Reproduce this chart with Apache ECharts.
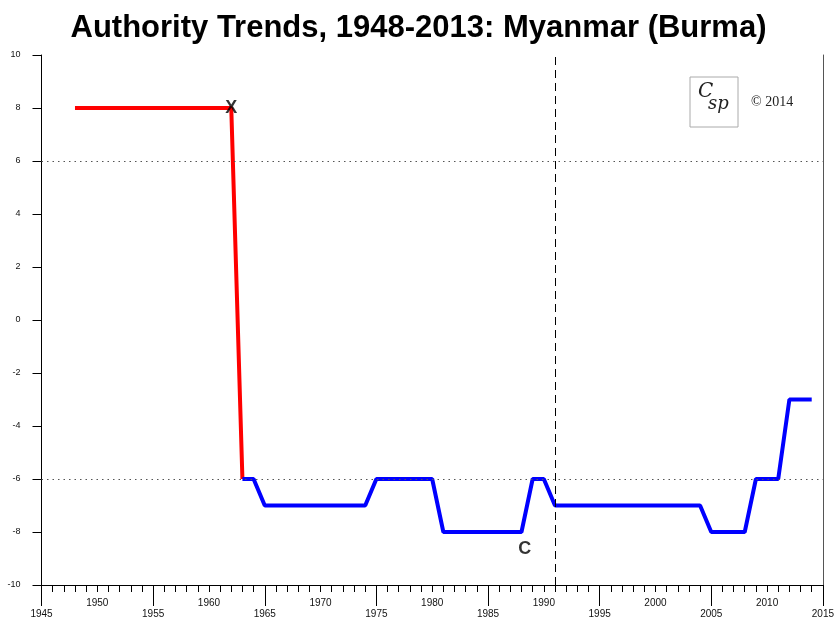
<!DOCTYPE html>
<html>
<head>
<meta charset="utf-8">
<script src="https://cdn.jsdelivr.net/npm/echarts@6/dist/echarts.min.js"></script>
<style>html,body{margin:0;padding:0;background:#fff}#c{width:837px;height:621px}</style>
</head>
<body>
<div id="c"></div>
<script>
const titleText = 'Authority Trends, 1948-2013: Myanmar (Burma)';
const redYears  = [1948, 1962, 1963];
const redValues = [8, 8, -6];
const blueYears  = [1963, 1964, 1965, 1974, 1975, 1980, 1981, 1988, 1989, 1990, 1991, 2004, 2005, 2008, 2009, 2011, 2012, 2014];
const blueValues = [-6, -6, -7, -7, -6, -6, -8, -8, -6, -6, -7, -7, -8, -8, -6, -6, -3, -3];
const markerLabels = ['X', 'C'];
const markerYears  = [1962, 1988.3];
const markerValues = [8, -8.65];
const refLines = [6, -6];
const eventYear = 1991;
const xMin = 1945, xMax = 2015;
const upperLabelYears = [1950, 1960, 1970, 1980, 1990, 2000, 2010];
const lowerLabelYears = [1945, 1955, 1965, 1975, 1985, 1995, 2005, 2015];
const yearTicks = [];
for (let y = xMin; y <= xMax; y++) yearTicks.push(y);

const chart = echarts.init(document.getElementById('c'), null, {renderer: 'canvas'});
const zip = (a, b) => a.map((v, i) => [v, b[i]]);
const plain = v => String(v);

const option = {
  animation: false,
  backgroundColor: '#fff',
  grid: {left: 41.5, right: 14, top: 55, bottom: 36, containLabel: false},
  xAxis: [
    {
      type: 'value', min: xMin, max: xMax, position: 'bottom',
      axisLine: {show: true, onZero: false, lineStyle: {color: '#000', width: 1}},
      axisTick: {show: true, customValues: yearTicks, length: 7, lineStyle: {color: '#000'}},
      axisLabel: {show: true, customValues: upperLabelYears, formatter: plain, margin: 13, fontSize: 10, color: '#111', fontFamily: 'Liberation Sans'},
      splitLine: {show: false}
    },
    {
      type: 'value', min: xMin, max: xMax, position: 'bottom',
      axisLine: {show: false, onZero: false},
      axisTick: {show: true, customValues: lowerLabelYears, length: 21, lineStyle: {color: '#000'}},
      axisLabel: {show: true, customValues: lowerLabelYears, formatter: plain, margin: 24, fontSize: 10, color: '#111', fontFamily: 'Liberation Sans'},
      splitLine: {show: false}
    }
  ],
  yAxis: [
    {
      type: 'value', min: -10, max: 10, interval: 2,
      axisLine: {show: true, onZero: false, lineStyle: {color: '#000', width: 1}},
      axisTick: {show: true, length: 9, lineStyle: {color: '#000'}},
      axisLabel: {show: true, margin: 21, fontSize: 9, color: '#111', fontFamily: 'Liberation Sans', formatter: plain},
      splitLine: {show: false}
    },
    {
      type: 'value', min: -10, max: 10, interval: 2, position: 'right',
      axisLine: {show: true, onZero: false, lineStyle: {color: '#555', width: 1}},
      axisTick: {show: false}, axisLabel: {show: false}, splitLine: {show: false}
    }
  ],
  series: [
    {
      type: 'line', data: zip(redYears, redValues), showSymbol: false, symbol: 'none',
      lineStyle: {color: '#ff0000', width: 4}, z: 4,
      markLine: {
        silent: true, symbol: 'none', label: {show: false},
        lineStyle: {color: '#555', type: [1.5, 4], width: 1},
        data: refLines.map(v => ({yAxis: v}))
      }
    },
    {
      type: 'line', data: zip(blueYears, blueValues), showSymbol: false, symbol: 'none',
      lineStyle: {color: '#0000ff', width: 4}, z: 4,
      markLine: {
        silent: true, symbol: 'none', label: {show: false},
        lineStyle: {color: '#000', type: [8, 5], width: 1},
        data: [{xAxis: eventYear}]
      }
    },
    {
      type: 'scatter', symbolSize: 0, z: 6,
      data: markerLabels.map((t, i) => ({value: [markerYears[i], markerValues[i]], name: t})),
      label: {show: true, position: 'inside', formatter: p => p.name, fontSize: 18, fontWeight: 'bold', color: '#000', textBorderWidth: 0, fontFamily: 'Liberation Sans'}
    }
  ],
  graphic: [
    {type: 'text', left: 'center', top: 13, style: {text: titleText, font: 'bold 31px "Liberation Sans"', fill: '#000'}},
    {type: 'rect', shape: {x: 690, y: 77, width: 48, height: 50}, style: {fill: '#fff', stroke: '#aaa', lineWidth: 1}},
    {type: 'text', x: 698, y: 82, style: {text: 'C', font: 'italic 20px "DejaVu Serif"', fill: '#222'}},
    {type: 'text', x: 708, y: 95, style: {text: 'sp', font: 'italic 18px "DejaVu Serif"', fill: '#222'}},
    {type: 'text', x: 751, y: 95, style: {text: '© 2014', font: '14px "Liberation Serif"', fill: '#222'}}
  ]
};
chart.setOption(option);
</script>
</body>
</html>
